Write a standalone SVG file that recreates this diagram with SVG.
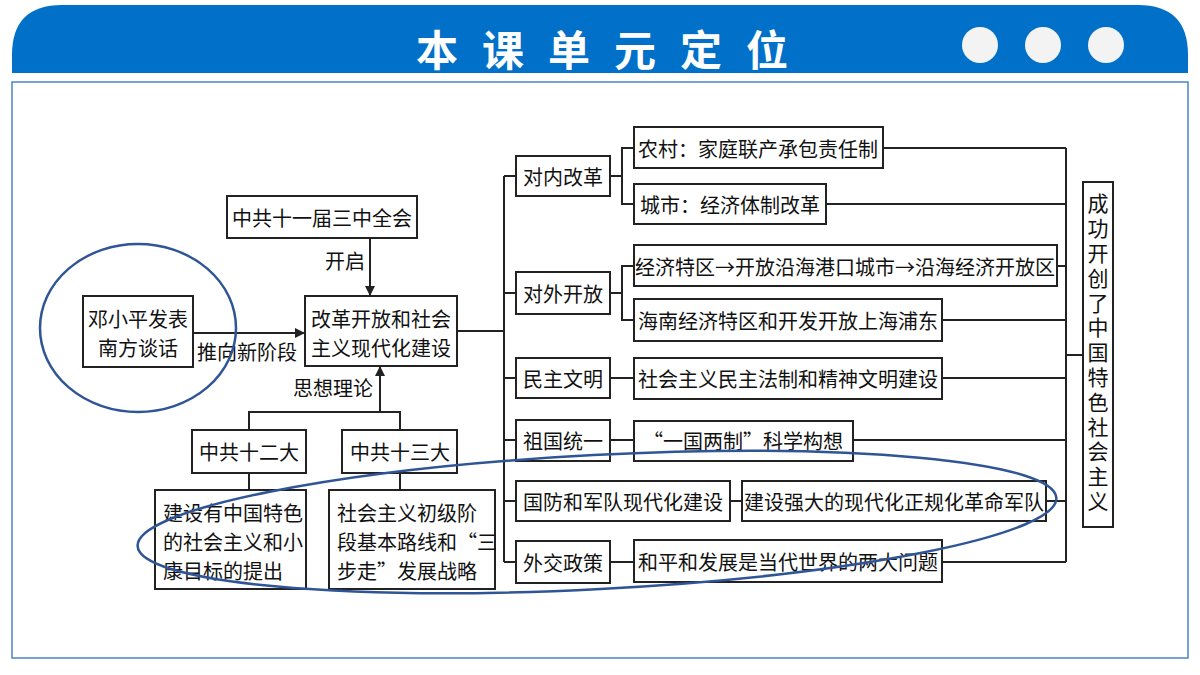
<svg xmlns="http://www.w3.org/2000/svg" width="1200" height="675" viewBox="0 0 1200 675">
<style>
.b{fill:#fff;stroke:#222;stroke-width:2}
.t{font-family:"Noto Sans CJK SC",sans-serif;font-size:20px;fill:#111;text-anchor:middle;dominant-baseline:central}
.l{fill:none;stroke:#222;stroke-width:2}
.e{fill:none;stroke:#2f5597;stroke-width:2.5}
</style>
<defs><marker id="a" markerWidth="10" markerHeight="10" refX="9" refY="5" orient="auto" markerUnits="userSpaceOnUse"><path d="M0,0 L10,5 L0,10 Z" fill="#222"/></marker></defs>
<rect width="1200" height="675" fill="#fff"/>
<g id="header">
<path d="M12,73 L12,55 Q12,5 62,5 L1138,5 Q1188,5 1188,55 L1188,73 Z" fill="#0070c8"/>
<text x="614" y="47" font-family="Noto Sans CJK SC,sans-serif" font-size="42" font-weight="bold" fill="#fff" text-anchor="middle" dominant-baseline="central" letter-spacing="24">本课单元定位</text>
<circle cx="980" cy="45" r="18" fill="#f3f3f3"/><circle cx="1043" cy="45" r="18" fill="#f3f3f3"/><circle cx="1106" cy="45" r="18" fill="#f3f3f3"/>
<rect x="12" y="82" width="1176" height="576" fill="none" stroke="#4a86c5" stroke-width="1.5"/>
</g>
<g id="connectors">
<line class="l" x1="370" y1="238" x2="370" y2="295" marker-end="url(#a)"/>
<line class="l" x1="193" y1="333" x2="304" y2="333" marker-end="url(#a)"/>
<polyline class="l" points="249,430 249,412 400,412 400,430"/>
<line class="l" x1="380" y1="412" x2="380" y2="367" marker-end="url(#a)"/>
<line class="l" x1="249" y1="473" x2="249" y2="490"/>
<line class="l" x1="400" y1="473" x2="400" y2="490"/>
<line class="l" x1="457" y1="331" x2="504" y2="331"/>
<line class="l" x1="504" y1="176" x2="504" y2="562"/>
<line class="l" x1="504" y1="176" x2="516" y2="176"/>
<line class="l" x1="504" y1="293" x2="516" y2="293"/>
<line class="l" x1="504" y1="378" x2="516" y2="378"/>
<line class="l" x1="504" y1="440" x2="516" y2="440"/>
<line class="l" x1="504" y1="501" x2="516" y2="501"/>
<line class="l" x1="504" y1="562" x2="516" y2="562"/>
<polyline class="l" points="634,148 622,148 622,204 634,204"/>
<line class="l" x1="610" y1="176" x2="622" y2="176"/>
<polyline class="l" points="634,266 622,266 622,320 634,320"/>
<line class="l" x1="610" y1="293" x2="622" y2="293"/>
<line class="l" x1="610" y1="378" x2="634" y2="378"/>
<line class="l" x1="610" y1="440" x2="634" y2="440"/>
<line class="l" x1="730" y1="501" x2="742" y2="501"/>
<line class="l" x1="610" y1="562" x2="634" y2="562"/>
<line class="l" x1="1066" y1="148" x2="1066" y2="562"/>
<line class="l" x1="883" y1="148" x2="1066" y2="148"/>
<line class="l" x1="826" y1="204" x2="1066" y2="204"/>
<line class="l" x1="1057" y1="266" x2="1066" y2="266"/>
<line class="l" x1="942" y1="320" x2="1066" y2="320"/>
<line class="l" x1="942" y1="378" x2="1066" y2="378"/>
<line class="l" x1="853" y1="440" x2="1066" y2="440"/>
<line class="l" x1="1046" y1="501" x2="1066" y2="501"/>
<line class="l" x1="942" y1="562" x2="1066" y2="562"/>
<line class="l" x1="1066" y1="355" x2="1083" y2="355"/>
</g>
<g id="labels">
<text class="t" x="345" y="260">开启</text>
<text class="t" x="247" y="351">推向新阶段</text>
<text class="t" x="333" y="387">思想理论</text>
</g>
<g id="n1"><rect class="b" x="227" y="196" width="190" height="42"/><text class="t" x="322" y="217">中共十一届三中全会</text></g>
<g id="n2"><rect class="b" x="305" y="296" width="152" height="70"/><text class="t" x="381" y="318">改革开放和社会</text><text class="t" x="381" y="347">主义现代化建设</text></g>
<g id="n3"><rect class="b" x="83" y="296" width="110" height="71"/><text class="t" x="138" y="318">邓小平发表</text><text class="t" x="138" y="347">南方谈话</text></g>
<g id="n4"><rect class="b" x="192" y="430" width="114" height="43"/><text class="t" x="249" y="451">中共十二大</text></g>
<g id="n5"><rect class="b" x="342" y="430" width="115" height="43"/><text class="t" x="400" y="451">中共十三大</text></g>
<g id="n6"><rect class="b" x="155" y="490" width="151" height="99"/><text class="t" x="163" y="512" style="text-anchor:start">建设有中国特色</text><text class="t" x="163" y="541" style="text-anchor:start">的社会主义和小</text><text class="t" x="163" y="570" style="text-anchor:start">康目标的提出</text></g>
<g id="n7"><rect class="b" x="329" y="490" width="166" height="99"/><text class="t" x="337" y="512" style="text-anchor:start">社会主义初级阶</text><text class="t" x="337" y="541" style="text-anchor:start">段基本路线和“三</text><text class="t" x="337" y="570" style="text-anchor:start">步走”发展战略</text></g>
<g id="m1"><rect class="b" x="516" y="156" width="94" height="40"/><text class="t" x="563" y="176">对内改革</text></g>
<g id="m2"><rect class="b" x="516" y="272" width="94" height="42"/><text class="t" x="563" y="293">对外开放</text></g>
<g id="m3"><rect class="b" x="516" y="358" width="94" height="40"/><text class="t" x="563" y="378">民主文明</text></g>
<g id="m4"><rect class="b" x="516" y="420" width="94" height="41"/><text class="t" x="563" y="440">祖国统一</text></g>
<g id="m5"><rect class="b" x="516" y="481" width="214" height="40"/><text class="t" x="623" y="501">国防和军队现代化建设</text></g>
<g id="m6"><rect class="b" x="516" y="541" width="94" height="42"/><text class="t" x="563" y="562">外交政策</text></g>
<g id="r1"><rect class="b" x="634" y="127" width="249" height="41"/><text class="t" x="758" y="148">农村：家庭联产承包责任制</text></g>
<g id="r2"><rect class="b" x="634" y="184" width="192" height="40"/><text class="t" x="730" y="204">城市：经济体制改革</text></g>
<g id="r3"><rect class="b" x="634" y="245" width="423" height="41"/><text class="t" x="845" y="266">经济特区→开放沿海港口城市→沿海经济开放区</text></g>
<g id="r4"><rect class="b" x="634" y="299" width="308" height="42"/><text class="t" x="788" y="320">海南经济特区和开发开放上海浦东</text></g>
<g id="r5"><rect class="b" x="634" y="358" width="308" height="41"/><text class="t" x="788" y="378">社会主义民主法制和精神文明建设</text></g>
<g id="r6"><rect class="b" x="634" y="421" width="219" height="40"/><text class="t" x="743" y="440">“一国两制”科学构想</text></g>
<g id="r7"><rect class="b" x="742" y="481" width="304" height="40"/><text class="t" x="894" y="501">建设强大的现代化正规化革命军队</text></g>
<g id="r8"><rect class="b" x="634" y="540" width="308" height="42"/><text class="t" x="788" y="561">和平和发展是当代世界的两大问题</text></g>
<g id="final"><rect class="b" x="1083" y="182" width="30" height="345"/><text x="1098" y="193" font-family="Noto Sans CJK SC,sans-serif" font-size="21" fill="#111" style="writing-mode:vertical-rl;text-orientation:upright" letter-spacing="3.8">成功开创了中国特色社会主义</text></g>
<g id="marks">
<ellipse class="e" cx="138" cy="328" rx="98" ry="84"/>
<ellipse class="e" cx="597" cy="522" rx="460" ry="67" transform="rotate(-3 597 522)"/>
</g>
</svg>
